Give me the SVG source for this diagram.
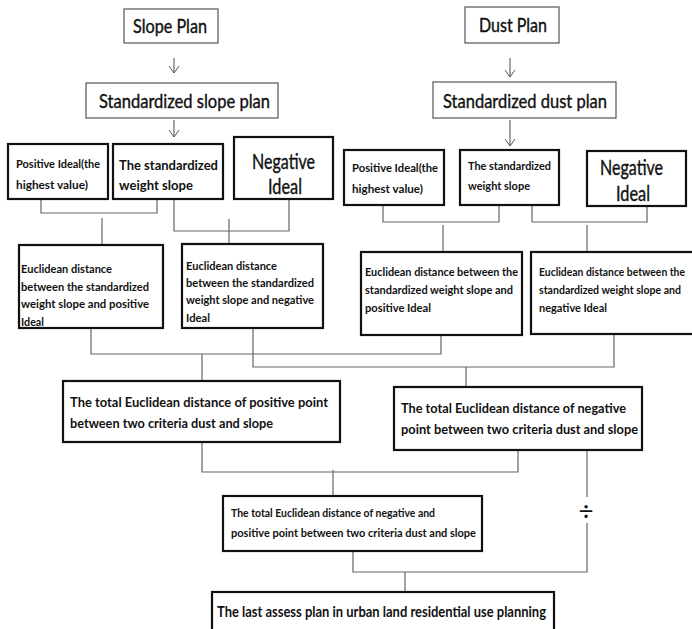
<svg xmlns="http://www.w3.org/2000/svg" width="692" height="629" viewBox="0 0 692 629">
<style>
.thin{fill:#fff;stroke:#555;stroke-width:1.2}
.thick{fill:#fff;stroke:#111;stroke-width:2.2}
.conn{fill:none;stroke:#666;stroke-width:1.2}
text{font-family:Lato,"Liberation Sans",sans-serif;fill:#111}
.n{stroke:#111;stroke-width:0.4}
.b{font-weight:bold}
.s{font-weight:bold}
</style>
<defs>
<marker id="arr" markerWidth="12" markerHeight="12" refX="10" refY="6" orient="auto" markerUnits="userSpaceOnUse" viewBox="0 0 12 12">
<polyline points="3,1 10,6 3,11" fill="none" stroke="#555" stroke-width="1"/>
</marker>
</defs>
<rect width="692" height="629" fill="#fff"/>

<g id="connectors">
<line class="conn" x1="174" y1="58" x2="174" y2="73" marker-end="url(#arr)"/>
<line class="conn" x1="174" y1="120" x2="174" y2="137" marker-end="url(#arr)"/>
<line class="conn" x1="510" y1="58" x2="510" y2="77" marker-end="url(#arr)"/>
<line class="conn" x1="510" y1="120" x2="510" y2="146" marker-end="url(#arr)"/>
<path class="conn" d="M41 199V213H157V199"/>
<path class="conn" d="M102 218V245"/>
<path class="conn" d="M174 199V231H289V199"/>
<path class="conn" d="M229 219V244"/>
<path class="conn" d="M383 205V222H499V205"/>
<path class="conn" d="M443 225V252"/>
<path class="conn" d="M532 205V222H647V206"/>
<path class="conn" d="M587 225V252"/>
<path class="conn" d="M91 328V354H441V335"/>
<path class="conn" d="M202 354V381"/>
<path class="conn" d="M253 328V367H614V334"/>
<path class="conn" d="M466 367V395"/>
<path class="conn" d="M202 442V472H518V450"/>
<path class="conn" d="M333 470V496"/>
<path class="conn" d="M587 449V497"/>
<path class="conn" d="M587 523V572H353V551"/>
<path class="conn" d="M405 572V597"/>
<text x="586" y="521" font-size="26" text-anchor="middle">÷</text>
</g>

<g id="slope-plan">
<rect class="thin" x="124" y="9" width="94" height="34"/>
<text class="n" x="133" y="33" font-size="19" textLength="74" lengthAdjust="spacingAndGlyphs">Slope Plan</text>
</g>
<g id="std-slope-plan">
<rect class="thin" x="86" y="83" width="192" height="35"/>
<text class="n" x="99" y="108" font-size="20" textLength="171" lengthAdjust="spacingAndGlyphs">Standardized slope plan</text>
</g>
<g id="dust-plan">
<rect class="thin" x="465" y="7" width="94" height="36"/>
<text class="n" x="479" y="32" font-size="19" textLength="68" lengthAdjust="spacingAndGlyphs">Dust Plan</text>
</g>
<g id="std-dust-plan">
<rect class="thin" x="433" y="82" width="183" height="36"/>
<text class="n" x="443" y="108" font-size="20" textLength="164" lengthAdjust="spacingAndGlyphs">Standardized dust plan</text>
</g>

<g id="pos-ideal-slope">
<rect class="thick" x="8" y="144" width="100" height="55"/>
<text class="b" x="16" y="168" font-size="12" textLength="84" lengthAdjust="spacingAndGlyphs">Positive Ideal(the</text>
<text class="b" x="16" y="189" font-size="12" textLength="72" lengthAdjust="spacingAndGlyphs">highest  value)</text>
</g>
<g id="std-weight-slope">
<rect class="thick" x="113" y="144" width="110" height="55"/>
<text class="s" x="119" y="170" font-size="14" textLength="99" lengthAdjust="spacingAndGlyphs">The standardized</text>
<text class="s" x="119" y="190" font-size="14" textLength="74" lengthAdjust="spacingAndGlyphs">weight slope</text>
</g>
<g id="neg-ideal-slope">
<rect class="thick" x="234" y="137" width="99" height="62"/>
<text class="n" x="252" y="169" font-size="21" textLength="63" lengthAdjust="spacingAndGlyphs">Negative</text>
<text class="n" x="268" y="194" font-size="21" textLength="34" lengthAdjust="spacingAndGlyphs">Ideal</text>
</g>

<g id="pos-ideal-dust">
<rect class="thick" x="344" y="150" width="100" height="55"/>
<text class="b" x="352" y="172" font-size="12" textLength="86" lengthAdjust="spacingAndGlyphs">Positive Ideal(the</text>
<text class="b" x="352" y="193" font-size="12" textLength="71" lengthAdjust="spacingAndGlyphs">highest  value)</text>
</g>
<g id="std-weight-dust">
<rect class="thick" x="460" y="150" width="99" height="55"/>
<text class="b" x="468" y="170" font-size="11.5" textLength="83" lengthAdjust="spacingAndGlyphs">The standardized</text>
<text class="b" x="468" y="190" font-size="11.5" textLength="62" lengthAdjust="spacingAndGlyphs">weight slope</text>
</g>
<g id="neg-ideal-dust">
<rect class="thick" x="587" y="151" width="99" height="55"/>
<text class="n" x="600" y="175" font-size="21" textLength="63" lengthAdjust="spacingAndGlyphs">Negative</text>
<text class="n" x="616" y="201" font-size="21" textLength="34" lengthAdjust="spacingAndGlyphs">Ideal</text>
</g>

<g id="euc-pos-slope">
<rect class="thick" x="19" y="245" width="144" height="83"/>
<text class="b" x="21" y="273" font-size="12" textLength="91" lengthAdjust="spacingAndGlyphs">Euclidean distance</text>
<text class="b" x="21" y="291" font-size="12" textLength="128" lengthAdjust="spacingAndGlyphs">between the standardized</text>
<text class="b" x="21" y="308" font-size="12" textLength="128" lengthAdjust="spacingAndGlyphs">weight slope and  positive</text>
<text class="b" x="21" y="326" font-size="12" textLength="23" lengthAdjust="spacingAndGlyphs">Ideal</text>
</g>
<g id="euc-neg-slope">
<rect class="thick" x="182" y="244" width="141" height="84"/>
<text class="b" x="186" y="270" font-size="12" textLength="91" lengthAdjust="spacingAndGlyphs">Euclidean distance</text>
<text class="b" x="186" y="287" font-size="12" textLength="128" lengthAdjust="spacingAndGlyphs">between the standardized</text>
<text class="b" x="186" y="304" font-size="12" textLength="128" lengthAdjust="spacingAndGlyphs">weight slope and negative</text>
<text class="b" x="186" y="322" font-size="12" textLength="24" lengthAdjust="spacingAndGlyphs">Ideal</text>
</g>
<g id="euc-pos-dust">
<rect class="thick" x="361" y="252" width="161" height="83"/>
<text class="b" x="365" y="276" font-size="12" textLength="153" lengthAdjust="spacingAndGlyphs">Euclidean distance between the</text>
<text class="b" x="365" y="294" font-size="12" textLength="148" lengthAdjust="spacingAndGlyphs">standardized weight slope and</text>
<text class="b" x="365" y="312" font-size="12" textLength="66" lengthAdjust="spacingAndGlyphs">positive Ideal</text>
</g>
<g id="euc-neg-dust">
<rect class="thick" x="531" y="252" width="170" height="82"/>
<text class="b" x="539" y="276" font-size="12" textLength="146" lengthAdjust="spacingAndGlyphs">Euclidean distance between the</text>
<text class="b" x="539" y="294" font-size="12" textLength="142" lengthAdjust="spacingAndGlyphs">standardized weight slope and</text>
<text class="b" x="539" y="312" font-size="12" textLength="68" lengthAdjust="spacingAndGlyphs">negative Ideal</text>
</g>

<g id="total-pos">
<rect class="thick" x="63" y="381" width="277" height="61"/>
<text class="s" x="70" y="407" font-size="14" textLength="258" lengthAdjust="spacingAndGlyphs">The total Euclidean distance of positive  point</text>
<text class="s" x="70" y="428" font-size="14" textLength="203" lengthAdjust="spacingAndGlyphs">between two criteria dust and slope</text>
</g>
<g id="total-neg">
<rect class="thick" x="394" y="387" width="248" height="63"/>
<text class="s" x="401" y="413" font-size="14" textLength="225" lengthAdjust="spacingAndGlyphs">The total Euclidean distance of negative</text>
<text class="s" x="401" y="434" font-size="14" textLength="237" lengthAdjust="spacingAndGlyphs">point between two criteria dust and slope</text>
</g>
<g id="total-both">
<rect class="thick" x="223" y="496" width="259" height="55"/>
<text class="b" x="231" y="517" font-size="12" textLength="204" lengthAdjust="spacingAndGlyphs">The total Euclidean distance of negative  and</text>
<text class="b" x="231" y="537" font-size="12" textLength="245" lengthAdjust="spacingAndGlyphs">positive point between two criteria dust and slope</text>
</g>
<g id="final-plan">
<rect class="thick" x="212" y="592" width="342" height="50"/>
<text class="s" x="217" y="617" font-size="14.5" textLength="329" lengthAdjust="spacingAndGlyphs">The last assess plan in urban land residential use planning</text>
</g>
</svg>
